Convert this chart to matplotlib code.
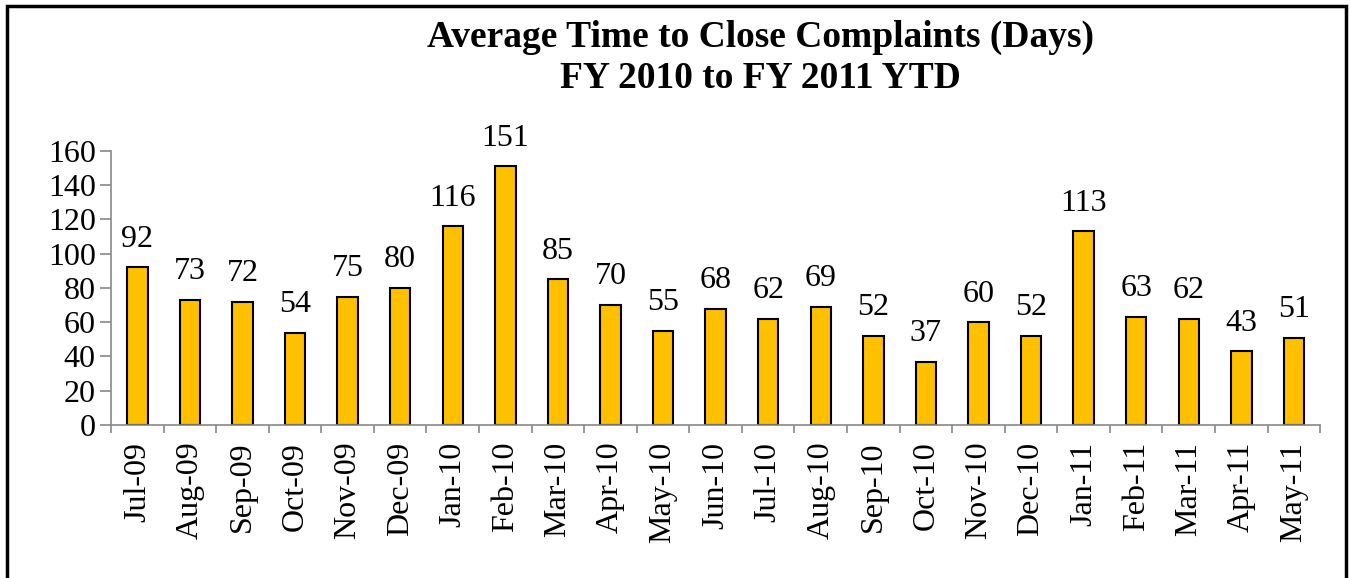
import numpy as np
import matplotlib.pyplot as plt
from matplotlib.patches import Rectangle

months = ['Jul-09', 'Aug-09', 'Sep-09', 'Oct-09', 'Nov-09', 'Dec-09', 'Jan-10',
          'Feb-10', 'Mar-10', 'Apr-10', 'May-10', 'Jun-10', 'Jul-10', 'Aug-10',
          'Sep-10', 'Oct-10', 'Nov-10', 'Dec-10', 'Jan-11', 'Feb-11', 'Mar-11',
          'Apr-11', 'May-11']
days = [92, 73, 72, 54, 75, 80, 116, 151, 85, 70, 55, 68, 62, 69, 52, 37, 60,
        52, 113, 63, 62, 43, 51]

plt.rcParams['font.family'] = ['Liberation Serif', 'DejaVu Serif']

fig = plt.figure(figsize=(13.51, 5.78), dpi=100)
ax = fig.add_axes([0.0822, 0.2647, 0.895, 0.4741])

x = np.arange(len(months))
ax.bar(x, days, width=0.39, color='#FFC000', edgecolor='black', linewidth=1.5)
for xi, v in zip(x, days):
    ax.text(xi, v + 8, str(v), ha='center', va='bottom', fontsize=23)

ax.set_xlim(-0.5, len(months) - 0.5)
ax.set_ylim(0, 160)
ax.set_yticks(range(0, 161, 20))
ax.tick_params(axis='y', labelsize=23, color='#888888', length=8, width=1.2, pad=3)

ax.set_xticks(x)
ax.set_xticklabels(months, rotation=90, fontsize=23)
ax.tick_params(axis='x', which='major', length=0, pad=12)
ax.set_xticks(np.arange(-0.5, len(months)), minor=True)
ax.tick_params(axis='x', which='minor', length=6, color='#888888', width=1.2)

for s in ['top', 'right']:
    ax.spines[s].set_visible(False)
for s in ['left', 'bottom']:
    ax.spines[s].set_color('#888888')
    ax.spines[s].set_linewidth(1.2)

fig.text(0.5626, 0.935, 'Average Time to Close Complaints (Days)', ha='center',
         va='center', fontsize=27, fontweight='bold')
fig.text(0.5626, 0.865, 'FY 2010 to FY 2011 YTD', ha='center',
         va='center', fontsize=27, fontweight='bold')

# outer frame (bottom edge falls outside the image)
fig.patches.append(Rectangle((0.0055, -0.05), 0.9905, 1.04, transform=fig.transFigure,
                             fill=False, edgecolor='black', linewidth=2.5))

fig.savefig('out.png', dpi=100)
